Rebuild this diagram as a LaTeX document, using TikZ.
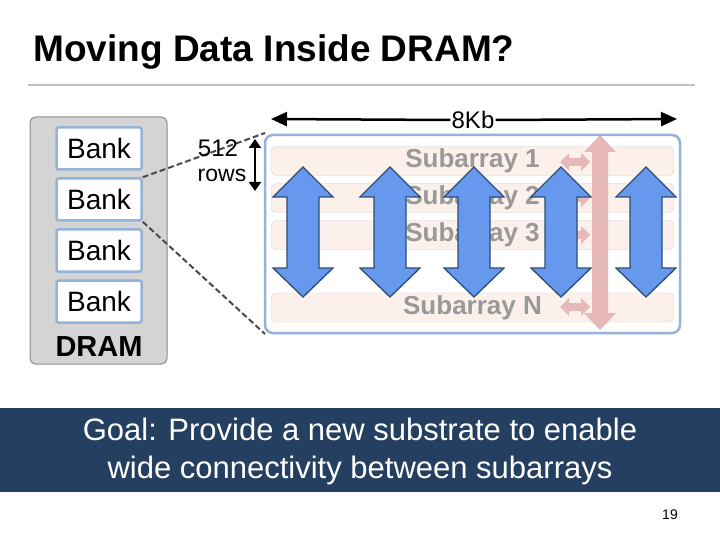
\documentclass[tikz,border=0pt]{standalone}
\usepackage{fontspec}
\setmainfont{Liberation Sans}
\usetikzlibrary{arrows.meta}
\definecolor{bankb}{HTML}{95B3D7}
\definecolor{navy}{HTML}{243F60}
\definecolor{bluef}{HTML}{6699EE}
\definecolor{blued}{HTML}{2C4D75}
\definecolor{pinkc}{HTML}{E6B9B8}
\definecolor{subf}{HTML}{FBF1EA}
\begin{document}
\begin{tikzpicture}[x=1pt,y=-1pt,
  bankbox/.style={draw=bankb,line width=2.5pt,fill=white,rounded corners=2pt,minimum width=85pt,minimum height=42pt,font=\fontsize{28}{28}\selectfont},
  subbox/.style={draw=black!18,fill=subf,rounded corners=6pt,minimum width=403pt,minimum height=29pt},
  sublab/.style={text=black!40,font=\bfseries\fontsize{26}{26}\selectfont},
  dashln/.style={line width=2pt,black!70,dash pattern=on 6pt off 3pt},
  bluearr/.style={fill=bluef,draw=blued,line width=1.3pt,line join=miter},
  pinkarr/.style={fill=pinkc,draw=none}]
\useasboundingbox (0,0) rectangle (720,540);
\fill[white] (0,0) rectangle (720,540);
\node[anchor=west,font=\bfseries\fontsize{37}{37}\selectfont] (title) at (30,52) {Moving Data Inside DRAM?};
\draw[black!25,line width=1.5pt] (28,85) -- (695,85);
% DRAM
\node[draw=black!45,fill=black!17,rounded corners=6pt,minimum width=137pt,minimum height=247pt,line width=1pt] (dram) at (98.5,240.5) {};
\node[bankbox] (b1) at (99,148.5) {Bank};
\node[bankbox] (b2) at (99,199.5) {Bank};
\node[bankbox] (b3) at (99,250.5) {Bank};
\node[bankbox] (b4) at (99,301.5) {Bank};
\node[font=\bfseries\fontsize{29}{29}\selectfont] (dl) at (99,347) {DRAM};
% big box
\node[draw=bankb,line width=2.5pt,fill=white,rounded corners=8pt,minimum width=415pt,minimum height=198pt] (big) at (472.5,234) {};
\coordinate (c1) at (265,133);
\coordinate (c2) at (265,334);
\draw[dashln] (b2.north east) -- (c1);
\draw[dashln] (b2.south east) -- (c2);
\node[font=\fontsize{24}{24}\selectfont] (n512) at (218,148) {512};
\node[font=\fontsize{23}{23}\selectfont] (rows) at (222,175) {rows};
\coordinate (r1) at (255,139);
\coordinate (r2) at (255,191);
\draw[line width=2.5pt,{Triangle[length=9pt,width=12pt]}-{Triangle[length=9pt,width=12pt]}] (r1) -- (r2);
% 8Kb
\node[fill=white,inner sep=1pt,font=\fontsize{24}{24}\selectfont] (kb) at (473,120) {8Kb};
\coordinate (k1) at (271,119);
\coordinate (k2) at (677,119);
\draw[line width=2.5pt,-{Triangle[length=16pt,width=14pt]}] (kb.west) -- (k1);
\draw[line width=2.5pt,-{Triangle[length=16pt,width=14pt]}] (kb.east) -- (k2);
% subarrays
\node[subbox] (s1) at (472.5,161) {};
\node[subbox] (s2) at (472.5,198) {};
\node[subbox] (s3) at (472.5,235) {};
\node[subbox] (sn) at (472.5,307.5) {};
\node[sublab] at (s1) {Subarray 1};
\node[sublab] at (s2) {Subarray 2};
\node[sublab] at (s3) {Subarray 3};
\node[sublab] at (sn) {Subarray N};
% pink arrows
\fill[pinkarr] (600,135) -- (616,152) -- (608,152) -- (608,313) -- (616,313) -- (600,330) -- (584,313) -- (592,313) -- (592,152) -- (584,152) -- cycle;
\foreach \yy in {162,198,235,307}{
  \fill[pinkarr] (560,\yy) -- (569,\yy-9) -- (569,\yy-4) -- (581,\yy-4) -- (581,\yy-9) -- (590,\yy) -- (581,\yy+9) -- (581,\yy+4) -- (569,\yy+4) -- (569,\yy+9) -- cycle;
}
% blue arrows
\foreach \cx in {303,390,474,561,646}{
  \draw[bluearr] (\cx,167) -- (\cx+30,197) -- (\cx+16,197) -- (\cx+16,268) -- (\cx+30,268) -- (\cx,297) -- (\cx-30,268) -- (\cx-16,268) -- (\cx-16,197) -- (\cx-30,197) -- cycle;
}
% goal
\node[fill=navy,minimum width=720pt,minimum height=84pt,inner sep=0pt] (goal) at (360,450) {};
\node[text=white,align=center,font=\fontsize{31}{38}\selectfont] (gt) at (360,451) {Goal: Provide a new substrate to enable\\wide connectivity between subarrays};
\node[font=\fontsize{14}{14}\selectfont] (pg) at (670,515) {19};
\end{tikzpicture}
\end{document}
